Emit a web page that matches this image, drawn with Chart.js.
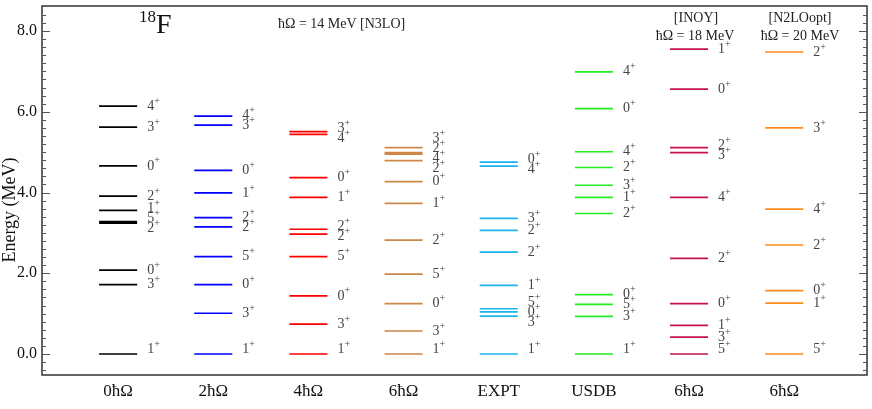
<!DOCTYPE html>
<html>
<head>
<meta charset="utf-8">
<script src="https://cdn.jsdelivr.net/npm/chart.js@4.4.0/dist/chart.umd.min.js"></script>
<style>
  html, body { margin: 0; padding: 0; background: #fff; }
  #wrap { width: 872px; height: 409px; }
</style>
</head>
<body>
<div id="wrap"><canvas id="levelChart" width="872" height="409"></canvas></div>
<script>
// column names along the bottom
const columnNames = ["0ħΩ", "2ħΩ", "4ħΩ", "6ħΩ", "EXPT", "USDB", "6ħΩ", "6ħΩ"];
const columnColors = ["#000000", "#0000ff", "#ff0000", "#cd8748", "#1ab4ee", "#22ee22", "#c8134e", "#ff8a1a"];
const yTicks = [0, 2, 4, 6, 8];

// level energies (MeV) and spins, one pair of arrays per column
const n3lo0Energy = [0, 1.72, 2.08, 3.24, 3.28, 3.56, 3.91, 4.66, 5.62, 6.14];
const n3lo0Spin = ["1", "3", "0", "2", "5", "1", "2", "0", "3", "4"];
const n3lo2Energy = [0, 1.01, 1.72, 2.41, 3.15, 3.38, 3.99, 4.55, 5.67, 5.89];
const n3lo2Spin = ["1", "3", "0", "5", "2", "2", "1", "0", "3", "4"];
const n3lo4Energy = [0, 0.74, 1.44, 2.41, 2.97, 3.09, 3.88, 4.37, 5.44, 5.51];
const n3lo4Spin = ["1", "3", "0", "5", "2", "2", "1", "0", "4", "3"];
const n3lo6Energy = [0, 0.57, 1.25, 1.98, 2.82, 3.73, 4.27, 4.79, 4.95, 4.99, 5.11];
const n3lo6Spin = ["1", "3", "0", "5", "2", "1", "0", "2", "4", "2", "3"];
const exptEnergy = [0, 0.937, 1.042, 1.121, 1.701, 2.523, 3.062, 3.358, 4.652, 4.753];
const exptSpin = ["1", "3", "0", "5", "1", "2", "2", "3", "4", "0"];
const usdbEnergy = [0, 0.93, 1.23, 1.47, 3.48, 3.88, 4.18, 4.62, 5.01, 6.08, 6.99];
const usdbSpin = ["1", "3", "5", "0", "2", "1", "3", "2", "4", "0", "4"];
const inoyEnergy = [0, 0.42, 0.71, 1.25, 2.37, 3.88, 4.99, 5.11, 6.56, 7.55];
const inoySpin = ["5", "3", "1", "0", "2", "4", "3", "2", "0", "1"];
const n2loEnergy = [0, 1.26, 1.57, 2.70, 3.59, 5.60, 7.48];
const n2loSpin = ["5", "1", "0", "2", "4", "3", "2"];

const allEnergies = [n3lo0Energy, n3lo2Energy, n3lo4Energy, n3lo6Energy, exptEnergy, usdbEnergy, inoyEnergy, n2loEnergy];
const allSpins = [n3lo0Spin, n3lo2Spin, n3lo4Spin, n3lo6Spin, exptSpin, usdbSpin, inoySpin, n2loSpin];

const halfWidth = 0.2;
const serif = "'Liberation Serif', 'DejaVu Serif', serif";

// each column is one dataset, a level is two points and a null breaks the line
const datasets = allEnergies.map((levels, col) => {
  const pts = [];
  levels.forEach((e) => {
    pts.push({ x: col - halfWidth, y: e });
    pts.push({ x: col + halfWidth, y: e });
    pts.push({ x: col, y: null });
  });
  return {
    data: pts,
    showLine: true,
    spanGaps: false,
    borderColor: columnColors[col],
    borderWidth: 1.7,
    pointRadius: 0,
    pointHoverRadius: 0,
  };
});

// spread the spin labels so they don't overlap, keeping groups centered
function spreadLabels(ys, gap) {
  let clusters = ys.map((y) => ({ sum: y, n: 1 }));
  let merged = true;
  while (merged) {
    merged = false;
    for (let i = 1; i < clusters.length; i++) {
      const a = clusters[i - 1];
      const b = clusters[i];
      const aBottom = a.sum / a.n + (a.n - 1) * gap / 2;
      const bTop = b.sum / b.n - (b.n - 1) * gap / 2;
      if (bTop - aBottom < gap) {
        clusters.splice(i - 1, 2, { sum: a.sum + b.sum, n: a.n + b.n });
        merged = true;
        break;
      }
    }
  }
  const out = [];
  clusters.forEach((c) => {
    const start = c.sum / c.n - (c.n - 1) * gap / 2;
    for (let k = 0; k < c.n; k++) out.push(start + k * gap);
  });
  return out;
}

function drawSpin(ctx, x, y, spin) {
  ctx.font = "14px " + serif;
  ctx.textAlign = "left";
  ctx.textBaseline = "middle";
  ctx.fillText(spin, x, y);
  const w = ctx.measureText(spin).width;
  ctx.font = "10px " + serif;
  ctx.fillText("+", x + w, y - 5);
}

const decorPlugin = {
  id: "decor",
  afterDatasetsDraw(chart) {
    const ctx = chart.ctx;
    const xs = chart.scales.x;
    const ys = chart.scales.y;
    const area = chart.chartArea;
    ctx.save();

    // spin labels
    ctx.fillStyle = "#444";
    allEnergies.forEach((levels, col) => {
      const order = levels.map((e, i) => i).sort((a, b) => levels[b] - levels[a]);
      const py = order.map((i) => ys.getPixelForValue(levels[i]));
      const placed = spreadLabels(py, 10);
      const lx = xs.getPixelForValue(col + halfWidth) + 10;
      order.forEach((i, k) => {
        let y = placed[k];
        if (levels[i] === 0 && py[k] - (placed[k - 1] || -99) > 16) y -= 5;
        drawSpin(ctx, lx, y, allSpins[col][i]);
      });
    });

    // frame and inward ticks
    ctx.strokeStyle = "#333";
    ctx.lineWidth = 1.5;
    ctx.strokeRect(area.left, area.top, area.right - area.left, area.bottom - area.top);
    ctx.lineWidth = 1;
    ctx.strokeStyle = "#555";
    for (let v = -0.4; v <= 8.6; v += 0.2) {
      const major = Math.abs(v / 2 - Math.round(v / 2)) < 1e-6;
      const len = major ? 8 : 4;
      const y = Math.round(ys.getPixelForValue(v)) + 0.5;
      ctx.beginPath();
      ctx.moveTo(area.left, y);
      ctx.lineTo(area.left + len, y);
      ctx.moveTo(area.right, y);
      ctx.lineTo(area.right - len, y);
      ctx.stroke();
    }

    // titles
    ctx.fillStyle = "#111";
    ctx.textBaseline = "middle";
    ctx.textAlign = "left";
    ctx.font = "17px " + serif;
    ctx.fillText("18", 139, 18);
    ctx.font = "28px " + serif;
    ctx.fillText("F", 156, 26);

    ctx.fillStyle = "#222";
    ctx.font = "14px " + serif;
    ctx.fillText("ħΩ = 14 MeV [N3LO]", 278, 24);
    ctx.textAlign = "center";
    ctx.fillText("[INOY]", 696, 18);
    ctx.fillText("ħΩ = 18 MeV", 695, 36);
    ctx.fillText("[N2LOopt]", 800, 18);
    ctx.fillText("ħΩ = 20 MeV", 800, 36);

    // y axis title
    ctx.translate(10, 210);
    ctx.rotate(-Math.PI / 2);
    ctx.font = "18px " + serif;
    ctx.fillStyle = "#111";
    ctx.fillText("Energy (MeV)", 0, 0);
    ctx.restore();
  },
};

const levelChart = new Chart(document.getElementById("levelChart"), {
  type: "scatter",
  data: { datasets: datasets },
  options: {
    responsive: false,
    animation: false,
    layout: { padding: { top: 6, right: 5, left: 0, bottom: 0 } },
    plugins: {
      legend: { display: false },
      tooltip: { enabled: false },
    },
    scales: {
      x: {
        type: "linear",
        min: -0.8,
        max: 7.87,
        grid: { display: false, drawTicks: false },
        border: { display: false },
        afterBuildTicks: (scale) => {
          scale.ticks = columnNames.map((n, i) => ({ value: i }));
        },
        afterFit: (scale) => {
          scale.height = 34;
          scale.paddingLeft = 0;
          scale.paddingRight = 0;
        },
        ticks: {
          padding: 6,
          color: "#111",
          font: { family: serif, size: 17 },
          maxRotation: 0,
          callback: (v) => columnNames[v],
        },
      },
      y: {
        type: "linear",
        min: -0.52,
        max: 8.62,
        grid: { display: false, drawTicks: false },
        border: { display: false },
        afterBuildTicks: (scale) => {
          scale.ticks = yTicks.map((v) => ({ value: v }));
        },
        afterFit: (scale) => {
          scale.width = 42;
          scale.paddingTop = 0;
          scale.paddingBottom = 0;
        },
        ticks: {
          padding: 5,
          color: "#111",
          font: { family: serif, size: 16 },
          callback: (v) => v.toFixed(1),
        },
      },
    },
  },
  plugins: [decorPlugin],
});
</script>
</body>
</html>
